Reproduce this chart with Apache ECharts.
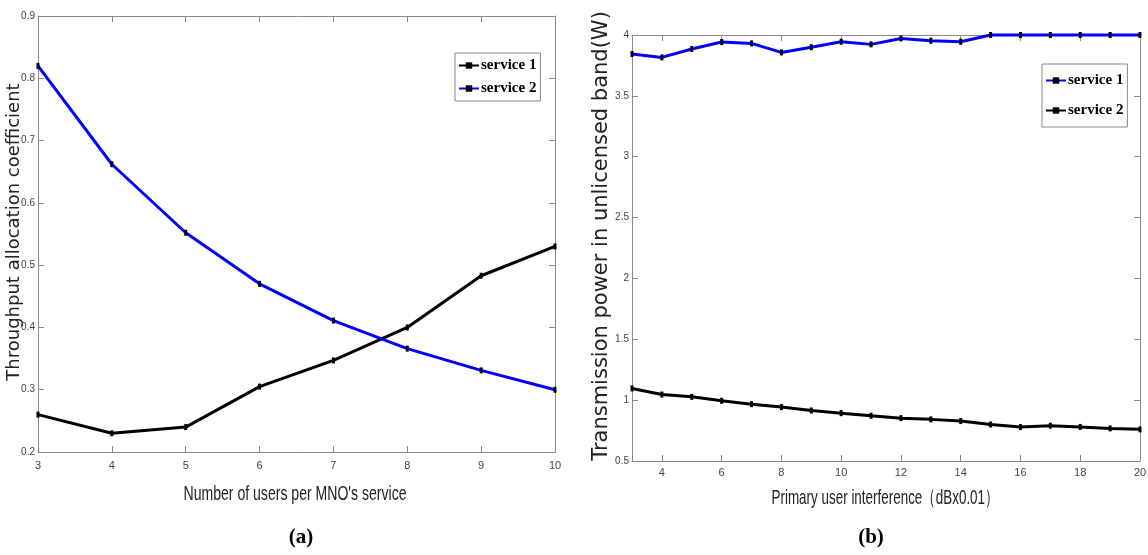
<!DOCTYPE html>
<html>
<head>
<meta charset="utf-8">
<script src="https://cdn.jsdelivr.net/npm/echarts@6/dist/echarts.min.js"></script>
<style>
html,body{margin:0;padding:0;background:#fff;}
#c{width:1148px;height:555px;}
</style>
</head>
<body>
<div id="c"></div>
<script>
// Panel (a)
const aX = [3, 4, 5, 6, 7, 8, 9, 10];
const aService1 = [0.26, 0.23, 0.24, 0.305, 0.347, 0.40, 0.483, 0.53];
const aService2 = [0.82, 0.662, 0.552, 0.47, 0.411, 0.366, 0.331, 0.30];
// Panel (b)
const bX = [3, 4, 5, 6, 7, 8, 9, 10, 11, 12, 13, 14, 15, 16, 17, 18, 19, 20];
const bService1 = [3.844, 3.816, 3.885, 3.942, 3.931, 3.857, 3.90, 3.945, 3.923, 3.972, 3.953, 3.945, 4, 4, 4, 4, 4, 4];
const bService2 = [1.096, 1.046, 1.027, 0.995, 0.967, 0.943, 0.915, 0.893, 0.872, 0.852, 0.842, 0.828, 0.80, 0.779, 0.79, 0.78, 0.768, 0.76];
const bXTicks = [4, 6, 8, 10, 12, 14, 16, 18, 20];
const legendNames = {a1: 'service 1', a2: 'service 2', b1: 'service 1', b2: 'service 2'};
const xNameA = "Number of users per MNO's service";
const xNameB = 'Primary user interference（dBx0.01）';
const yNameA = 'Throughput allocation coefficient';
const yNameB = 'Transmission power in unlicensed band(W)';

const pair = (xs, ys) => xs.map((x, i) => [x, ys[i]]);
const sans = '"Liberation Sans", Arial, sans-serif';
const axisGray = '#8a8a8a';
const lblColor = '#444';

// horizontal squeeze so condensed reference text keeps its height and width
const mctx = document.createElement('canvas').getContext('2d');
function squeeze(text, font, target) {
  mctx.font = font;
  return target / mctx.measureText(text).width;
}
const nameFont = '21px "Liberation Sans"';

function mkSeries(name, xi, yi, data, color) {
  return {
    name: name, type: 'line', xAxisIndex: xi, yAxisIndex: yi, data: data,
    clip: false, symbol: 'rect', symbolSize: [3, 6],
    lineStyle: {color: color, width: 3},
    itemStyle: {color: '#000'},
    emphasis: {disabled: true}
  };
}

const legendText = {fontFamily: 'Liberation Serif', fontWeight: 'bold', fontSize: 15, color: '#000', padding: [0, 0, 0, -3]};

const chart = echarts.init(document.getElementById('c'));
chart.setOption({
  animation: false,
  backgroundColor: '#fff',
  title: [
    {text: '(a)', left: 296, top: 522, textAlign: 'center',
      textStyle: {fontFamily: 'Liberation Serif', fontWeight: 'bold', fontSize: 21, color: '#000'}},
    {text: '(b)', left: 866, top: 522, textAlign: 'center',
      textStyle: {fontFamily: 'Liberation Serif', fontWeight: 'bold', fontSize: 21, color: '#000'}}
  ],
  graphic: [
    {type: 'text', x: 295, y: 494, scaleX: squeeze(xNameA, nameFont, 223),
      style: {text: xNameA, font: nameFont, fill: '#222', align: 'center', verticalAlign: 'middle'}},
    {type: 'text', x: 885, y: 498, scaleX: squeeze(xNameB, nameFont, 227),
      style: {text: xNameB, font: nameFont, fill: '#222', align: 'center', verticalAlign: 'middle'}},
    {type: 'text', x: 14, y: 232, rotation: Math.PI / 2,
      style: {text: yNameA, font: '18px "DejaVu Sans"', fill: '#222', align: 'center', verticalAlign: 'middle'}},
    {type: 'text', x: 602, y: 236, rotation: Math.PI / 2,
      style: {text: yNameB, font: '21px "DejaVu Sans"', fill: '#222', align: 'center', verticalAlign: 'middle'}}
  ],
  grid: [
    {left: 38, right: 593, top: 16, bottom: 103, outerBoundsMode: 'none'},
    {left: 632, right: 8, top: 35, bottom: 94, outerBoundsMode: 'none'}
  ],
  legend: [
    {data: ['a1', 'a2'], orient: 'vertical', left: 455, top: 53, formatter: n => legendNames[n],
      itemWidth: 20, itemHeight: 8, itemGap: 8, padding: [5, 4, 5, 3],
      borderColor: '#888', borderWidth: 1, backgroundColor: '#fff', textStyle: legendText},
    {data: ['b1', 'b2'], orient: 'vertical', left: 1042, top: 64, formatter: n => legendNames[n],
      itemWidth: 20, itemHeight: 8, itemGap: 15, padding: [9, 4, 9, 3],
      borderColor: '#888', borderWidth: 1, backgroundColor: '#fff', textStyle: legendText}
  ],
  xAxis: [
    {gridIndex: 0, type: 'value', min: 3, max: 10, interval: 1, position: 'bottom',
      axisLine: {lineStyle: {color: axisGray}}, axisTick: {inside: true, length: 6, lineStyle: {color: axisGray}},
      axisLabel: {fontFamily: sans, fontSize: 11, color: lblColor, margin: 8}, splitLine: {show: false}},
    {gridIndex: 0, type: 'value', min: 3, max: 10, interval: 1, position: 'top',
      axisLine: {lineStyle: {color: axisGray}}, axisTick: {inside: true, length: 6, lineStyle: {color: axisGray}},
      axisLabel: {show: false}, splitLine: {show: false}},
    {gridIndex: 1, type: 'value', min: 3, max: 20, position: 'bottom',
      axisLine: {lineStyle: {color: axisGray}},
      axisTick: {inside: true, length: 6, lineStyle: {color: axisGray}, customValues: bXTicks},
      axisLabel: {fontFamily: sans, fontSize: 11, color: lblColor, margin: 6, customValues: bXTicks},
      splitLine: {show: false}},
    {gridIndex: 1, type: 'value', min: 3, max: 20, position: 'top',
      axisLine: {lineStyle: {color: axisGray}},
      axisTick: {inside: true, length: 6, lineStyle: {color: axisGray}, customValues: bXTicks},
      axisLabel: {show: false}, splitLine: {show: false}}
  ],
  yAxis: [
    {gridIndex: 0, type: 'value', min: 0.2, max: 0.9, interval: 0.1, position: 'left',
      axisLine: {lineStyle: {color: axisGray}}, axisTick: {inside: true, length: 6, lineStyle: {color: axisGray}},
      axisLabel: {fontFamily: sans, fontSize: 10, color: lblColor, margin: 3, formatter: v => +v.toFixed(1)},
      splitLine: {show: false}},
    {gridIndex: 0, type: 'value', min: 0.2, max: 0.9, interval: 0.1, position: 'right',
      axisLine: {lineStyle: {color: axisGray}}, axisTick: {inside: true, length: 6, lineStyle: {color: axisGray}},
      axisLabel: {show: false}, splitLine: {show: false}},
    {gridIndex: 1, type: 'value', min: 0.5, max: 4, interval: 0.5, position: 'left',
      axisLine: {lineStyle: {color: axisGray}}, axisTick: {inside: true, length: 6, lineStyle: {color: axisGray}},
      axisLabel: {fontFamily: sans, fontSize: 10, color: lblColor, margin: 3, formatter: v => +v.toFixed(1)},
      splitLine: {show: false}},
    {gridIndex: 1, type: 'value', min: 0.5, max: 4, interval: 0.5, position: 'right',
      axisLine: {lineStyle: {color: axisGray}}, axisTick: {inside: true, length: 6, lineStyle: {color: axisGray}},
      axisLabel: {show: false}, splitLine: {show: false}}
  ],
  series: [
    mkSeries('a1', 0, 0, pair(aX, aService1), '#000'),
    mkSeries('a2', 0, 0, pair(aX, aService2), '#0000ff'),
    mkSeries('b1', 2, 2, pair(bX, bService1), '#0000ff'),
    mkSeries('b2', 2, 2, pair(bX, bService2), '#000')
  ]
});
</script>
</body>
</html>
